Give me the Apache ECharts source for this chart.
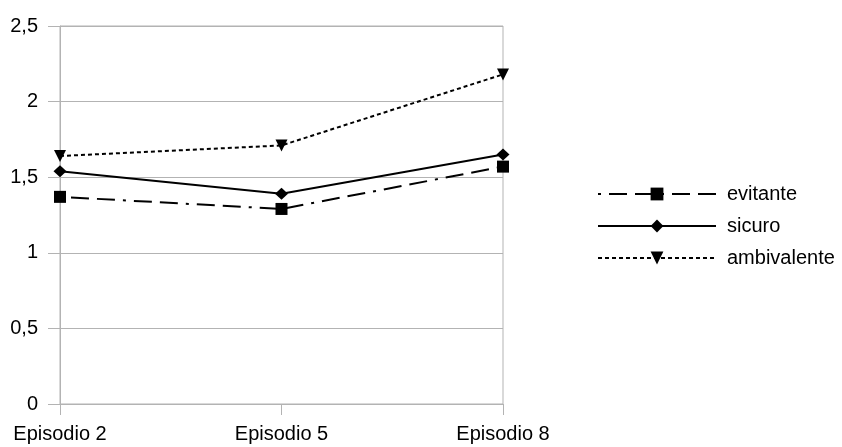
<!DOCTYPE html>
<html>
<head>
<meta charset="utf-8">
<script src="https://cdn.jsdelivr.net/npm/echarts@6/dist/echarts.min.js"></script>
<style>
  html, body { margin: 0; padding: 0; background: #ffffff; }
  #chart { width: 842px; height: 447px; }
</style>
</head>
<body>
<div id="chart"></div>
<script>
// Episodes on the x axis
const categories = ['Episodio 2', 'Episodio 5', 'Episodio 8'];

// Mean scores per attachment group
const evitante = [1.37, 1.29, 1.57];
const sicuro = [1.54, 1.39, 1.65];
const ambivalente = [1.64, 1.71, 2.18];

// Value axis range
const yMin = 0;
const yMax = 2.5;
const yStep = 0.5;

const FONT = '"Liberation Sans", Arial, sans-serif';
const GRID = '#b3b3b3';
const downTriangle = 'path://M0,0 L10,0 L5,10 Z';

const chart = echarts.init(document.getElementById('chart'), null, { renderer: 'canvas' });

chart.setOption({
  animation: false,
  backgroundColor: '#ffffff',
  textStyle: { fontFamily: FONT },
  grid: {
    left: 60, right: 339, top: 26, bottom: 43,
    show: true, borderColor: GRID, borderWidth: 1, backgroundColor: 'transparent'
  },
  legend: {
    orient: 'vertical',
    left: 597,
    top: 184,
    padding: 0,
    itemWidth: 118,
    itemHeight: 16,
    itemGap: 12,
    textStyle: { fontFamily: FONT, fontSize: 20, color: '#000', padding: [0, 0, 0, 6] },
    data: ['evitante', 'sicuro', 'ambivalente']
  },
  xAxis: {
    type: 'category',
    data: categories,
    boundaryGap: false,
    axisLine: { lineStyle: { color: GRID, width: 1 } },
    axisTick: { show: true, length: 11, lineStyle: { color: GRID } },
    splitLine: { show: false },
    axisLabel: { fontFamily: FONT, fontSize: 20, color: '#000', margin: 20 }
  },
  yAxis: {
    type: 'value',
    min: yMin, max: yMax, interval: yStep,
    axisLine: { show: true, lineStyle: { color: GRID, width: 1 } },
    axisTick: { show: true, length: 12, lineStyle: { color: GRID } },
    splitLine: { show: true, lineStyle: { color: GRID, width: 1 } },
    axisLabel: {
      fontFamily: FONT, fontSize: 20, color: '#000', margin: 22,
      formatter: v => String(v).replace('.', ',')
    }
  },
  series: [
    {
      name: 'evitante', type: 'line', data: evitante,
      symbol: 'rect', symbolSize: 12,
      itemStyle: { color: '#000' },
      lineStyle: { color: '#000', width: 2, type: [3, 8, 18, 8, 18, 8] }
    },
    {
      name: 'sicuro', type: 'line', data: sicuro,
      symbol: 'diamond', symbolSize: [13, 12],
      itemStyle: { color: '#000' },
      lineStyle: { color: '#000', width: 2, type: 'solid' }
    },
    {
      name: 'ambivalente', type: 'line', data: ambivalente,
      symbol: downTriangle, symbolSize: 12,
      itemStyle: { color: '#000' },
      lineStyle: { color: '#000', width: 2, type: [4, 3] }
    }
  ]
});
</script>
</body>
</html>
